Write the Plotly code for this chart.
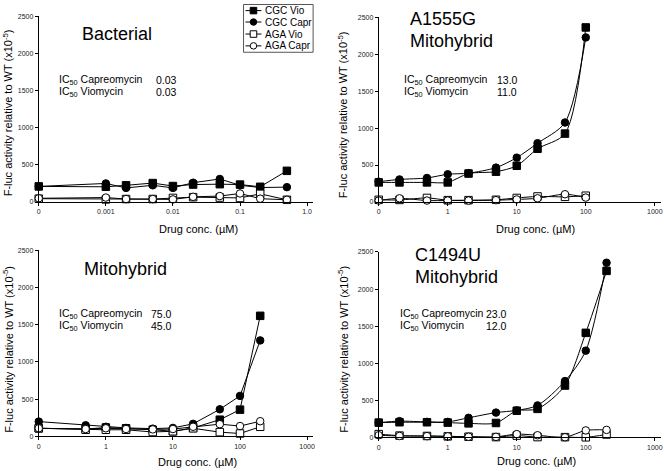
import plotly.graph_objects as go

# ---------------- data ----------------
series_names = ["CGC Vio", "CGC Capr", "AGA Vio", "AGA Capr"]

# Bacterial (x = 0 plotted at 0.0001 on log axis)
bact_x = [0.0001, 0.001, 0.002, 0.005, 0.01, 0.02, 0.05, 0.1, 0.2, 0.5]
bact_cgc_vio = [210, 205, 225, 255, 215, 235, 240, 235, 205, 420]
bact_cgc_capr = [210, 250, 190, 225, 190, 260, 310, 225, 195, 200]
bact_aga_vio = [45, 35, 40, 40, 55, 65, 60, 55, 110, 30]
bact_aga_capr = [50, 60, 40, 40, 35, 70, 80, 115, 45, 30]

# A1555G Mitohybrid (x = 0 plotted at 0.1)
a1555_x = [0.1, 0.2, 0.5, 1, 2, 5, 10, 20, 50, 100]
a1555_cgc_vio = [265, 265, 265, 265, 385, 410, 490, 720, 925, 2360]
a1555_cgc_capr = [275, 305, 325, 375, 390, 465, 600, 795, 1075, 2225]
a1555_aga_vio = [30, 28, 55, 25, 25, 30, 55, 75, 70, 85]
a1555_aga_capr = [20, 50, 20, 20, 20, 25, 35, 50, 105, 60]

# Mitohybrid
mito_x = [0.1, 0.5, 1, 2, 5, 10, 20, 50, 100, 200]
mito_cgc_vio = [110, 100, 120, 110, 90, 70, 115, 225, 360, 1620]
mito_cgc_capr = [200, 150, 130, 115, 105, 115, 170, 365, 545, 1290]
mito_aga_vio = [110, 90, 90, 90, 60, 70, 110, 58, 40, 130]
mito_aga_capr = [110, 100, 110, 100, 95, 100, 130, 165, 140, 205]

# C1494U Mitohybrid
c1494_x = [0.1, 0.2, 0.5, 1, 2, 5, 10, 20, 50, 100, 200]
c1494_cgc_vio = [200, 205, 205, 200, 190, 195, 360, 385, 700, 1410, 2245]
c1494_cgc_capr = [200, 220, 210, 210, 265, 335, 365, 432, 760, 1170, 2355]
c1494_aga_vio = [45, 25, 20, 15, 10, 5, 25, 5, 4, 2, 40]
c1494_aga_capr = [30, 20, 18, 15, 10, 8, 45, 30, 3, 95, 102]

bact_tickvals = [0.0001, 0.001, 0.01, 0.1, 1]
bact_ticktext = ["0", "0.001", "0.01", "0.1", "1.0"]
mito_tickvals = [0.1, 1, 10, 100, 1000]
mito_ticktext = ["0", "1", "10", "100", "1000"]
y_ticks = [0, 500, 1000, 1500, 2000, 2500]

ic50_labels = ["IC<sub>50</sub> Capreomycin", "IC<sub>50</sub> Viomycin"]
bact_ic50 = ["0.03", "0.03"]
a1555_ic50 = ["13.0", "11.0"]
mito_ic50 = ["75.0", "45.0"]
c1494_ic50 = ["23.0", "12.0"]

# ---------------- layout helpers ----------------
W, H = 664, 471
FONT = "Liberation Sans, Arial, Helvetica, sans-serif"


def px(x):
    return x / W


def py(y):
    return 1 - y / H


panels = [
    dict(x=bact_x, ys=[bact_cgc_vio, bact_cgc_capr, bact_aga_vio, bact_aga_capr],
         tv=bact_tickvals, tt=bact_ticktext, xr=[-4, 0.09], smooth=False,
         dom_x=[37, 313], dom_y=[201, 12.5],
         titles=[("Bacterial", 116, 30, "center")],
         ic=bact_ic50, icx=(55, 153), icy=(77, 89),
         ytitle=(6, 110), xtitle=(198, 228)),
    dict(x=a1555_x, ys=[a1555_cgc_vio, a1555_cgc_capr, a1555_aga_vio, a1555_aga_capr],
         tv=mito_tickvals, tt=mito_ticktext, xr=[-1, 3.09], smooth=True,
         dom_x=[379, 663], dom_y=[201, 13.3],
         titles=[("A1555G", 408, 15.5, "left"), ("Mitohybrid", 408, 37.5, "left")],
         ic=a1555_ic50, icx=(402, 496), icy=(77, 89),
         ytitle=(343, 112), xtitle=(537, 228)),
    dict(x=mito_x, ys=[mito_cgc_vio, mito_cgc_capr, mito_aga_vio, mito_aga_capr],
         tv=mito_tickvals, tt=mito_ticktext, xr=[-1, 3.09], smooth=False,
         dom_x=[37, 313], dom_y=[439, 250],
         titles=[("Mitohybrid", 124.5, 269, "center")],
         ic=mito_ic50, icx=(55, 148), icy=(315, 326.5),
         ytitle=(6, 350), xtitle=(197, 465)),
    dict(x=c1494_x, ys=[c1494_cgc_vio, c1494_cgc_capr, c1494_aga_vio, c1494_aga_capr],
         tv=mito_tickvals, tt=mito_ticktext, xr=[-1, 3.09], smooth=True,
         dom_x=[379, 663], dom_y=[440, 251.7],
         titles=[("C1494U", 413, 255, "left"), ("Mitohybrid", 413, 277, "left")],
         ic=c1494_ic50, icx=(398, 485), icy=(315, 326.5),
         ytitle=(343, 350), xtitle=(538, 464)),
]

styles = [
    dict(symbol="square", color="black", line=dict(color="black", width=1)),
    dict(symbol="circle", color="black", line=dict(color="black", width=1)),
    dict(symbol="square", color="white", line=dict(color="black", width=1)),
    dict(symbol="circle", color="white", line=dict(color="black", width=1)),
]

fig = go.Figure()
annotations = []
shapes = []
layout_axes = {}

for i, p in enumerate(panels):
    n = "" if i == 0 else str(i + 1)
    xa, ya = "x" + n, "y" + n
    for name, yv, st in zip(series_names, p["ys"], styles):
        fig.add_trace(go.Scatter(
            x=p["x"], y=yv, mode="lines+markers", name=name,
            xaxis=xa, yaxis=ya, showlegend=False, cliponaxis=False,
            line=dict(color="black", width=1,
                      shape="spline" if p["smooth"] else "linear", smoothing=0.8),
            marker=dict(size=7.5, **st),
        ))
    layout_axes["xaxis" + n] = dict(
        domain=[px(p["dom_x"][0]), px(p["dom_x"][1])], anchor=ya,
        type="log", range=p["xr"], tickvals=p["tv"], ticktext=p["tt"],
        showline=True, linecolor="black", linewidth=1, ticks="outside",
        ticklen=3, tickcolor="black", tickfont=dict(size=7, color="#222", family=FONT),
        showgrid=False, zeroline=False, fixedrange=True)
    layout_axes["yaxis" + n] = dict(
        domain=[py(p["dom_y"][0]), py(p["dom_y"][1])], anchor=xa,
        range=[0, 2500], tickvals=y_ticks,
        showline=True, linecolor="black", linewidth=1, ticks="outside",
        ticklen=3, tickcolor="black", tickfont=dict(size=7, color="#222", family=FONT),
        showgrid=False, zeroline=False, fixedrange=True)

    for txt, tx, ty, al in p["titles"]:
        annotations.append(dict(text=txt, x=px(tx), y=py(ty), xref="paper", yref="paper",
                                xanchor=al, yanchor="middle", showarrow=False,
                                font=dict(size=18, color="black", family=FONT)))
    for lab, val, ly in zip(ic50_labels, p["ic"], p["icy"]):
        annotations.append(dict(text=lab, x=px(p["icx"][0]), y=py(ly), xref="paper",
                                yref="paper", xanchor="left", yanchor="middle",
                                showarrow=False, font=dict(size=10.5, color="black", family=FONT)))
        annotations.append(dict(text=val, x=px(p["icx"][1]), y=py(ly), xref="paper",
                                yref="paper", xanchor="left", yanchor="middle",
                                showarrow=False, font=dict(size=10.5, color="black", family=FONT)))
    annotations.append(dict(text="F-luc activity relative to WT (x10<sup>-5</sup>)",
                            x=px(p["ytitle"][0]), y=py(p["ytitle"][1]), xref="paper",
                            yref="paper", xanchor="center", yanchor="middle",
                            textangle=-90, showarrow=False,
                            font=dict(size=11, color="black", family=FONT)))
    annotations.append(dict(text="Drug conc. (\u00b5M)", x=px(p["xtitle"][0]),
                            y=py(p["xtitle"][1]), xref="paper", yref="paper",
                            xanchor="center", yanchor="middle", showarrow=False,
                            font=dict(size=11, color="black", family=FONT)))

# ---------------- custom compact legend (top centre box) ----------------
leg_x0, leg_x1, leg_y0, leg_y1 = 243, 313, 0.5, 49
shapes.append(dict(type="rect", xref="paper", yref="paper",
                   x0=px(leg_x0), x1=px(leg_x1), y0=py(leg_y1), y1=py(leg_y0),
                   line=dict(color="#555", width=1), fillcolor="white"))
leg_rows = [6.7, 18.3, 30.5, 42.5]
for name, st, ry in zip(series_names, styles, leg_rows):
    shapes.append(dict(type="line", xref="paper", yref="paper",
                       x0=px(245), x1=px(261), y0=py(ry), y1=py(ry),
                       line=dict(color="black", width=1)))
    r = 3.3
    shapes.append(dict(type="rect" if st["symbol"] == "square" else "circle",
                       xref="paper", yref="paper",
                       x0=px(253 - r), x1=px(253 + r), y0=py(ry + r), y1=py(ry - r),
                       fillcolor=st["color"], line=dict(color="black", width=1)))
    annotations.append(dict(text=name, x=px(263), y=py(ry), xref="paper", yref="paper",
                            xanchor="left", yanchor="middle", showarrow=False,
                            font=dict(size=10, color="black", family=FONT)))

fig.update_layout(
    width=W, height=H, margin=dict(l=0, r=0, t=0, b=0),
    paper_bgcolor="white", plot_bgcolor="white",
    font=dict(family=FONT, color="black"),
    annotations=annotations, shapes=shapes, showlegend=False,
    **layout_axes,
)

fig.write_html("out.html", config={"displayModeBar": False},
               post_script="document.body.style.margin='0';document.body.style.padding='0';")
